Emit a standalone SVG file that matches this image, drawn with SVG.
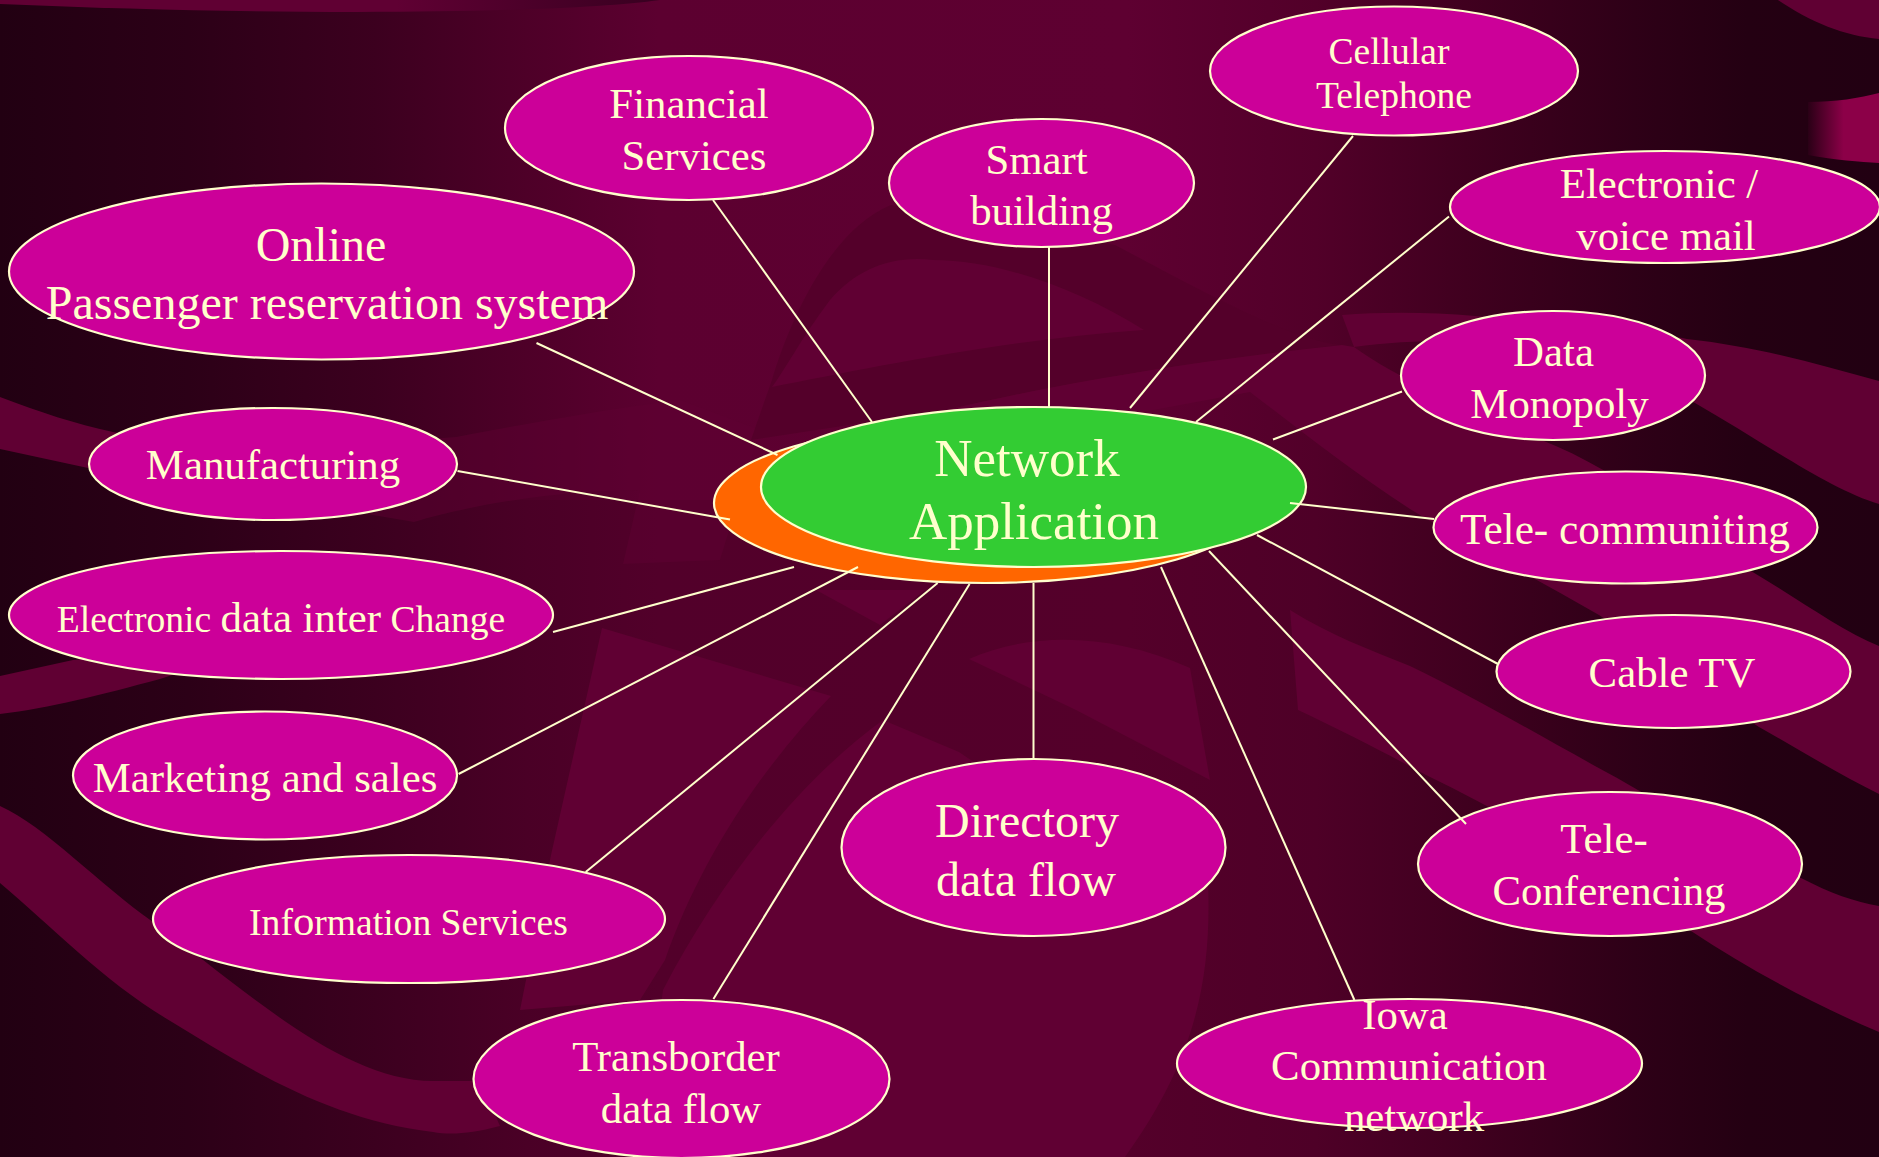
<svg xmlns="http://www.w3.org/2000/svg" width="1879" height="1157" viewBox="0 0 1879 1157">
<defs>
<linearGradient id="bg" x1="0" y1="0" x2="1" y2="0">
<stop offset="0" stop-color="#220012"/><stop offset="0.04" stop-color="#260014"/><stop offset="0.1" stop-color="#2c0017"/><stop offset="0.2" stop-color="#3c001f"/><stop offset="0.28" stop-color="#4e0028"/><stop offset="0.35" stop-color="#5c0030"/><stop offset="0.6" stop-color="#5e0031"/><stop offset="0.7" stop-color="#520029"/><stop offset="0.78" stop-color="#40001f"/><stop offset="0.87" stop-color="#2e0017"/><stop offset="0.93" stop-color="#240012"/><stop offset="1" stop-color="#220012"/>
</linearGradient>
<linearGradient id="bg2" x1="0" y1="0" x2="1" y2="0">
<stop offset="0" stop-color="#220012"/><stop offset="0.04" stop-color="#260014"/><stop offset="0.1" stop-color="#2c0017"/><stop offset="0.2" stop-color="#3c001f"/><stop offset="0.28" stop-color="#4a0026"/><stop offset="0.35" stop-color="#52002a"/><stop offset="0.6" stop-color="#54002a"/><stop offset="0.7" stop-color="#4e0027"/><stop offset="0.78" stop-color="#40001f"/><stop offset="0.87" stop-color="#2e0017"/><stop offset="0.93" stop-color="#240012"/><stop offset="1" stop-color="#220012"/>
</linearGradient>
<linearGradient id="top" x1="0" y1="0" x2="1" y2="0"><stop offset="0" stop-color="#600033"/><stop offset="0.6" stop-color="#600033"/><stop offset="1" stop-color="#380020"/></linearGradient>
<linearGradient id="tab" x1="0" y1="0" x2="1" y2="0"><stop offset="0" stop-color="#2a0016"/><stop offset="0.5" stop-color="#8c0048"/><stop offset="1" stop-color="#8c0048"/></linearGradient>
</defs>
<style>
.sw{fill:#600033}
.faint{fill:#600033;fill-opacity:.45}
.dk{fill:#54002a}
.n{fill:#CC0099;stroke:#FFFFCC;stroke-width:2.2}
.l{stroke:#FFFFCC;stroke-width:2;fill:none}
text{font-family:"Liberation Serif","Times New Roman",serif;fill:#FFFFCC;text-anchor:middle}
.f37{font-size:37.6px}.f42{font-size:42.8px}.f43{font-size:43.3px}.f48{font-size:48px}.f53{font-size:53px}
</style>
<g id="background">
<rect width="1879" height="1157" fill="url(#bg)"/>
<path fill="url(#bg2)" d="M0 500H1879V1157H0Z"/>
<path fill="url(#top)" d="M0 0H660C560 14 280 16 0 4Z"/>
<path class="sw" d="M1778 0C1810 22 1845 36 1879 39V0Z"/>
<path fill="url(#tab)" d="M1808 102C1835 102 1860 98 1879 93V163C1860 162 1835 160 1808 155Z"/>
<path class="sw" d="M0 397C40 412 75 424 113 432L200 450L88 468L0 449Z"/>
<path class="faint" d="M340 445L456 437C520 425 600 410 680 400L760 430L720 560L623 564L640 490C560 490 470 505 414 522L367 514Z"/>
<path class="sw" d="M0 676L73 660L280 640L160 679C100 695 50 708 0 714Z"/>
<path class="sw" d="M0 806C45 826 100 885 153 922C240 985 340 1081 433 1081H480L500 1126C470 1134 450 1135 433 1132C330 1120 250 1070 167 1019C105 982 50 925 0 883Z"/>
<path class="dk" d="M751 440L772 380C790 320 830 230 891 205L1115 245C1200 290 1290 340 1340 345C1200 360 1050 385 947 410Z"/>
<path class="sw" d="M1144 330C1080 290 1000 260 933 260C890 255 856 270 830 300C800 340 785 370 772 387C860 370 1000 340 1144 330Z"/>
<path class="sw" d="M947 410C1050 385 1200 360 1342 345L1354 347C1400 380 1470 410 1539 439C1620 470 1690 530 1751 571C1800 600 1840 630 1879 646V794C1840 775 1800 750 1759 727C1710 695 1660 655 1599 615C1530 575 1470 545 1410 509C1350 470 1300 430 1250 392L1100 420Z"/>
<path class="sw" d="M1342 315C1380 312 1430 312 1475 316C1560 322 1650 332 1687 339C1760 347 1820 365 1879 381V504C1830 490 1760 440 1695 403C1620 375 1550 350 1475 341C1430 340 1390 342 1354 347Z"/>
<path class="sw" d="M1290 610C1330 635 1370 650 1410 666C1470 695 1530 730 1595 766C1660 800 1730 850 1801 878C1830 893 1855 902 1879 906V1032C1815 1005 1750 970 1691 931C1630 890 1540 830 1426 775C1380 750 1340 730 1298 710Z"/>
<path class="sw" d="M602 628L831 696C760 770 700 860 665 960L640 1000L520 1010L551 855Z"/>
<path class="sw" d="M969 659C1030 632 1110 632 1190 668L1210 780L1076 710Z"/>
<path class="sw" d="M883 720L959 752L1030 800L1208 880C1212 980 1195 1060 1125 1157H640L663 990C720 880 800 780 883 720Z"/>
<path class="sw" d="M816 590L880 625L925 590Z"/>
</g>
<g id="center">
<ellipse cx="985" cy="503" rx="271" ry="80" fill="#FF6600" stroke="#FFFFCC" stroke-width="2.2"/>
<ellipse cx="1033.5" cy="487" rx="272.5" ry="80" fill="#33CC33" stroke="#FFFFCC" stroke-width="2.2"/>
<text class="f53" x="1027" y="475.5">Network</text>
<text class="f53" x="1034" y="539">Application</text>
</g>
<g id="n-financial"><ellipse class="n" cx="689" cy="128" rx="184" ry="72"/><text class="f42" x="689" y="117.5">Financial</text><text class="f42" x="694" y="170">Services</text></g>
<g id="n-online"><ellipse class="n" cx="321.5" cy="271.5" rx="312.5" ry="88"/><text class="f48" x="321" y="261">Online</text><text class="f48" x="327" y="319">Passenger reservation system</text></g>
<g id="n-manufacturing"><ellipse class="n" cx="273" cy="464" rx="184" ry="56"/><text class="f42" x="273" y="479">Manufacturing</text></g>
<g id="n-edi"><ellipse class="n" cx="281" cy="615" rx="272" ry="64"/><text class="f37" x="281" y="632">Electronic <tspan class="f42">data inter</tspan> Change</text></g>
<g id="n-marketing"><ellipse class="n" cx="265" cy="775.5" rx="192" ry="64"/><text class="f42" x="265" y="791.5">Marketing and sales</text></g>
<g id="n-information"><ellipse class="n" cx="409" cy="919" rx="256" ry="64"/><text class="f37" x="408.5" y="935">Inf<tspan class="f42">o</tspan>rmation Services</text></g>
<g id="n-transborder"><ellipse class="n" cx="681.5" cy="1079" rx="208" ry="79"/><text class="f42" x="676" y="1071">Transborder</text><text class="f42" x="681" y="1123">data flow</text></g>
<g id="n-directory"><ellipse class="n" cx="1033.5" cy="847.5" rx="192" ry="88.5"/><text class="f48" x="1027" y="837">Directory</text><text class="f48" x="1026" y="896">data flow</text></g>
<g id="n-iowa"><ellipse class="n" cx="1409.5" cy="1063.5" rx="232.5" ry="64.5"/><text class="f42" x="1405" y="1029">Iowa</text><text class="f42" x="1409" y="1080">Communication</text><text class="f42" x="1414" y="1131">network</text></g>
<g id="n-teleconf"><ellipse class="n" cx="1610" cy="864" rx="192" ry="72"/><text class="f42" x="1604" y="853">Tele-</text><text class="f42" x="1609" y="905">Conferencing</text></g>
<g id="n-cable"><ellipse class="n" cx="1673.5" cy="671.5" rx="177" ry="56.5"/><text class="f42" x="1672" y="687">Cable TV</text></g>
<g id="n-telecommuting"><ellipse class="n" cx="1625.5" cy="527.5" rx="192" ry="56"/><text class="f43" x="1625" y="543.5">Tele- communiting</text></g>
<g id="n-data"><ellipse class="n" cx="1553" cy="375.5" rx="152" ry="64.5"/><text class="f42" x="1553.5" y="366">Data</text><text class="f42" x="1559.5" y="418">Monopoly</text></g>
<g id="n-mail"><ellipse class="n" cx="1665" cy="207" rx="215" ry="56"/><text class="f42" x="1659" y="198">Electronic /</text><text class="f42" x="1666" y="250">voice mail</text></g>
<g id="n-cellular"><ellipse class="n" cx="1394" cy="71" rx="184" ry="64.5"/><text class="f37" x="1389" y="64">Cellular</text><text class="f37" x="1394" y="108">Telephone</text></g>
<g id="n-smart"><ellipse class="n" cx="1041.5" cy="183" rx="152.5" ry="64"/><text class="f42" x="1036.5" y="174">Smart</text><text class="f42" x="1041.5" y="225">building</text></g>
<g id="connectors">
<line class="l" x1="713" y1="200" x2="872" y2="422"/>
<line class="l" x1="536.5" y1="343" x2="777.5" y2="455"/>
<line class="l" x1="457.5" y1="471" x2="730" y2="519.5"/>
<line class="l" x1="553" y1="632" x2="794" y2="567"/>
<line class="l" x1="458.6" y1="774" x2="858" y2="567"/>
<line class="l" x1="585.7" y1="872" x2="937.6" y2="583"/>
<line class="l" x1="713.4" y1="999" x2="969.6" y2="584"/>
<line class="l" x1="1033.5" y1="583" x2="1033.5" y2="759"/>
<line class="l" x1="1354.4" y1="1000" x2="1161" y2="567"/>
<line class="l" x1="1466" y1="824" x2="1209" y2="551"/>
<line class="l" x1="1498" y1="664" x2="1257" y2="535"/>
<line class="l" x1="1434" y1="519" x2="1290" y2="503"/>
<line class="l" x1="1402" y1="391.5" x2="1273" y2="439.5"/>
<line class="l" x1="1449" y1="216.5" x2="1196" y2="422"/>
<line class="l" x1="1353" y1="136" x2="1130" y2="408"/>
<line class="l" x1="1049" y1="247" x2="1049" y2="407"/>
</g>
</svg>
